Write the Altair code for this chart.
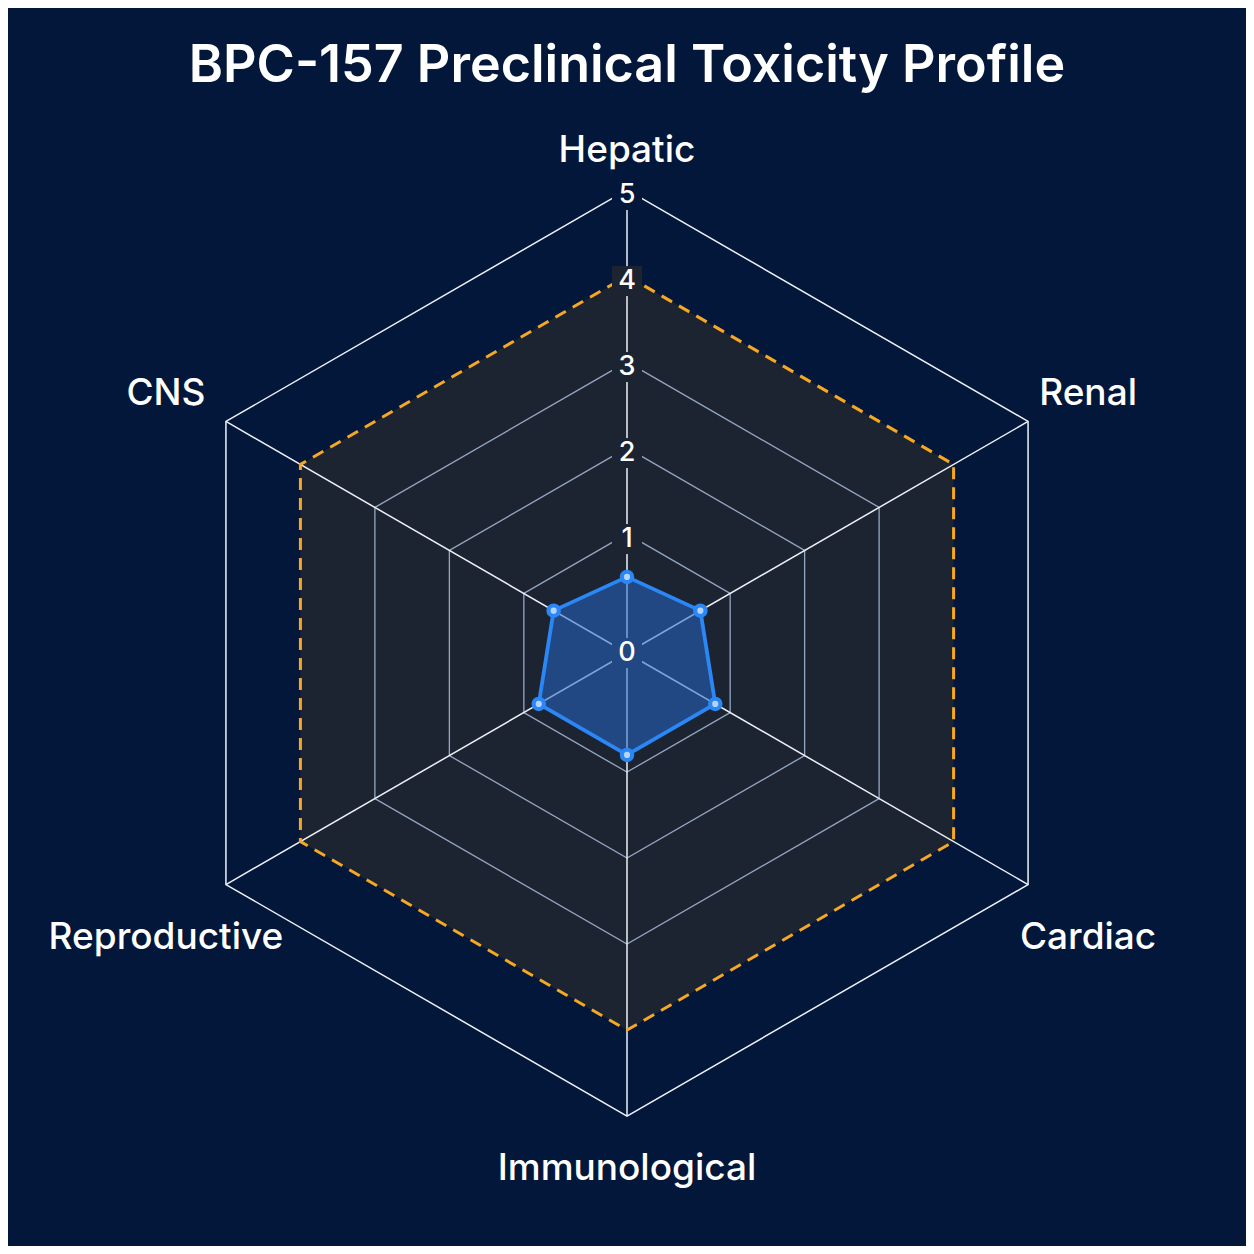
import altair as alt
import pandas as pd
import numpy as np

# ---- data ----
categories = ["Hepatic", "Renal", "Cardiac", "Immunological", "Reproductive", "CNS"]
scores = [0.5, 0.6, 0.8, 0.8, 0.8, 0.6]
grid_levels = [1, 2, 3]
outer_level = 5
threshold_level = 4
tick_labels = [0, 1, 2, 3, 4, 5]
title_text = "BPC-157 Preclinical Toxicity Profile"

# ---- geometry / style ----
PX = 86.0          # pixels per score unit
OFF = 0.385        # radial offset of the score scale
W, H = 1238, 1238
CX, CY = 619, 645
x_dom = [-CX / PX, (W - CX) / PX]
y_dom = [-(H - CY) / PX, CY / PX]

BG = "#03173a"
PANEL = "#1d2431"
GRID = "#a2b6d2"
WHITE = "#eef2f8"
ORANGE = "#f7a823"
BLUE = "#2b87f5"

n = len(categories)
angles = [i * 360.0 / n for i in range(n)]


def rad(v):
    return v + OFF


def ring_rows(level, key):
    rows = []
    for i in range(n + 1):
        th = np.deg2rad(angles[i % n])
        r = rad(level)
        rows.append({"x": r * np.sin(th), "y": r * np.cos(th), "idx": i, "key": key})
    return rows


xs = alt.X("x:Q", scale=alt.Scale(domain=x_dom, nice=False, zero=False), axis=None)
ys = alt.Y("y:Q", scale=alt.Scale(domain=y_dom, nice=False, zero=False), axis=None)

# background panel inside threshold ring
panel_df = pd.DataFrame(ring_rows(threshold_level, "panel"))
panel = alt.Chart(panel_df).mark_line(fill=PANEL, stroke=PANEL, strokeWidth=0, fillOpacity=1).encode(
    x=xs, y=ys, order="idx:Q")

# inner grid rings
grid_df = pd.DataFrame(sum([ring_rows(l, f"g{l}") for l in grid_levels], []))
grid = alt.Chart(grid_df).mark_line(color=GRID, strokeWidth=1.3, opacity=0.9).encode(
    x=xs, y=ys, order="idx:Q", detail="key:N")

# outer ring
outer_df = pd.DataFrame(ring_rows(outer_level, "outer"))
outer = alt.Chart(outer_df).mark_line(color=WHITE, strokeWidth=1.5).encode(
    x=xs, y=ys, order="idx:Q")

# spokes
spoke_rows = []
for i, c in enumerate(categories):
    th = np.deg2rad(angles[i])
    r = rad(outer_level)
    spoke_rows.append({"x": 0.0, "y": 0.0, "x2": r * np.sin(th), "y2": r * np.cos(th), "cat": c})
spoke_df = pd.DataFrame(spoke_rows)
spokes = alt.Chart(spoke_df).mark_rule(color=WHITE, strokeWidth=1.5).encode(
    x=xs, y=ys, x2="x2:Q", y2="y2:Q")

# threshold dashed ring
thr_df = pd.DataFrame(ring_rows(threshold_level, "thr"))
thr = alt.Chart(thr_df).mark_line(color=ORANGE, strokeWidth=3, strokeDash=[12, 8]).encode(
    x=xs, y=ys, order="idx:Q")

# tick labels and their backdrops
tick_rows = []
for v in tick_labels:
    r = 0.0 if v == 0 else rad(v) - 0.06
    bgc = BG if v == outer_level else PANEL
    tick_rows.append({"x": 0.0, "y": r, "label": str(v), "bg": bgc})
tick_df = pd.DataFrame(tick_rows)
tick_bg = alt.Chart(tick_df).mark_square(size=900, opacity=1).encode(
    x=xs, y=ys, color=alt.Color("bg:N", scale=None))
tick_txt = alt.Chart(tick_df).mark_text(
    font="Inter", fontSize=27, fontWeight=500, color="white", baseline="middle", align="center").encode(
    x=xs, y=ys, text="label:N")

# data polygon
data_rows = []
for i in range(n + 1):
    k = i % n
    th = np.deg2rad(angles[k])
    r = rad(scores[k])
    data_rows.append({"x": r * np.sin(th), "y": r * np.cos(th), "idx": i,
                      "cat": categories[k], "score": scores[k]})
data_df = pd.DataFrame(data_rows)
poly = alt.Chart(data_df).mark_line(fill="#2566c4", fillOpacity=0.55, stroke=BLUE, strokeWidth=3.8,
                                     strokeJoin="round").encode(x=xs, y=ys, order="idx:Q")
pts_df = data_df.iloc[:n]
pts = alt.Chart(pts_df).mark_circle(size=210, color=BLUE, opacity=1).encode(x=xs, y=ys)
pts_in = alt.Chart(pts_df).mark_circle(size=38, color="#b3d4ff", opacity=1).encode(x=xs, y=ys)

# category labels
lab_rows = []
for i, c in enumerate(categories):
    th = np.deg2rad(angles[i])
    s, co = np.sin(th), np.cos(th)
    r = (509 + 27 * abs(s)) / PX
    extra = 12 / PX if (abs(s) > 0.1 and co < 0) else 0.0
    lab_rows.append({"x": r * s, "y": r * co - extra, "label": c})
lab_df = pd.DataFrame(lab_rows)
labels = alt.Chart(lab_df).mark_text(
    font="Inter", fontSize=37, fontWeight=500, color="white", baseline="middle", align="center", dy=7).encode(
    x=xs, y=ys, text="label:N")

# title
title = alt.Chart(pd.DataFrame({"t": [title_text]})).mark_text(
    font="Inter", fontSize=52, fontWeight=600, color="white", baseline="middle", align="center").encode(
    x=alt.value(CX), y=alt.value(58), text="t:N")

chart = alt.layer(panel, grid, outer, spokes, thr, tick_bg, poly, pts, pts_in, tick_txt, labels, title).properties(
    width=W, height=H, padding=0
).configure(background=BG).configure_view(strokeWidth=0, fill=BG)

chart.save("out.html", embed_options={"renderer": "svg", "actions": False})
